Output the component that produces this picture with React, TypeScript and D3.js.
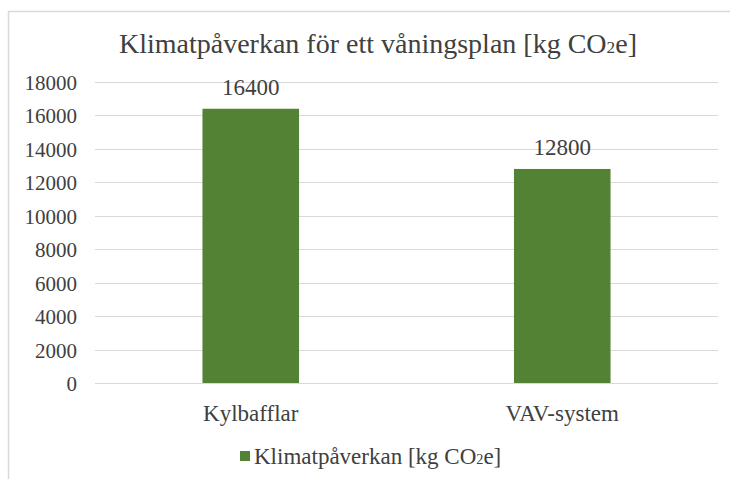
import React from 'react'
import * as d3 from 'd3'

const categories = ['Kylbafflar', 'VAV-system']
const values = [16400, 12800]
const yTicks = [0, 2000, 4000, 6000, 8000, 10000, 12000, 14000, 16000, 18000]
const seriesName = 'Klimatpåverkan [kg CO₂e]'

const W = 730
const H = 479
const GREEN = '#548235'
const GRID = '#d9d9d9'
const TEXT = '#404040'

// text with a small subscript "2" in CO2e
const Co2Text = ({ pre, post, size }: { pre: string; post: string; size: number }) => (
    <>
        {pre}
        <tspan fontSize={size * 0.62} style={{ fontFamily: "'Liberation Serif'" }}>2</tspan>
        {post}
    </>
)

const Txt = (props: any) => (
    <text fontFamily="Liberation Serif" fill={TEXT} {...props} style={{ fontFamily: "'Liberation Serif'" }} />
)

const App = () => {
    const margin = { top: 82, right: 12, bottom: 96, left: 95 }
    const innerW = W - margin.left - margin.right
    const innerH = H - margin.top - margin.bottom

    const x = d3.scaleBand().domain(categories).range([0, innerW]).paddingInner(0.69).paddingOuter(0.345)
    const y = d3.scaleLinear().domain([0, 18000]).range([innerH, 0])

    return (
        <svg width={W} height={H} style={{ position: 'absolute', left: 0, top: 0, background: '#fff' }}>
            {/* chart frame */}
            <rect x={8.5} y={11.5} width={W + 10} height={H + 10} fill="none" stroke={GRID} strokeWidth={1.5} />

            <Txt x={378} y={53} textAnchor="middle" fontSize={28}>
                <Co2Text pre="Klimatpåverkan för ett våningsplan [kg CO" post="e]" size={28} />
            </Txt>

            <g transform={`translate(${margin.left},${margin.top})`}>
                {yTicks.map(t => (
                    <g key={t} transform={`translate(0,${Math.round(y(t)) + 0.5})`}>
                        <line x1={0} x2={innerW} stroke={GRID} strokeWidth={1} />
                        <Txt x={-18} dy="0.35em" textAnchor="end" fontSize={21}>{t}</Txt>
                    </g>
                ))}

                {categories.map((c, i) => (
                    <g key={c}>
                        <rect x={x(c)} y={y(values[i])} width={x.bandwidth()} height={innerH - y(values[i])} fill={GREEN} />
                        <Txt x={(x(c) as number) + x.bandwidth() / 2} y={y(values[i]) - 14} textAnchor="middle" fontSize={23}>
                            {values[i]}
                        </Txt>
                        <Txt x={(x(c) as number) + x.bandwidth() / 2} y={innerH + 38} textAnchor="middle" fontSize={23}>
                            {c}
                        </Txt>
                    </g>
                ))}
            </g>

            {/* legend */}
            <g transform="translate(240,451)">
                <rect x={0} y={0} width={10} height={10} fill={GREEN} />
                <Txt x={14} y={13} fontSize={23}>
                    <Co2Text pre={seriesName.split('CO₂')[0] + 'CO'} post={seriesName.split('CO₂')[1]} size={23} />
                </Txt>
            </g>
        </svg>
    )
}

export default App
